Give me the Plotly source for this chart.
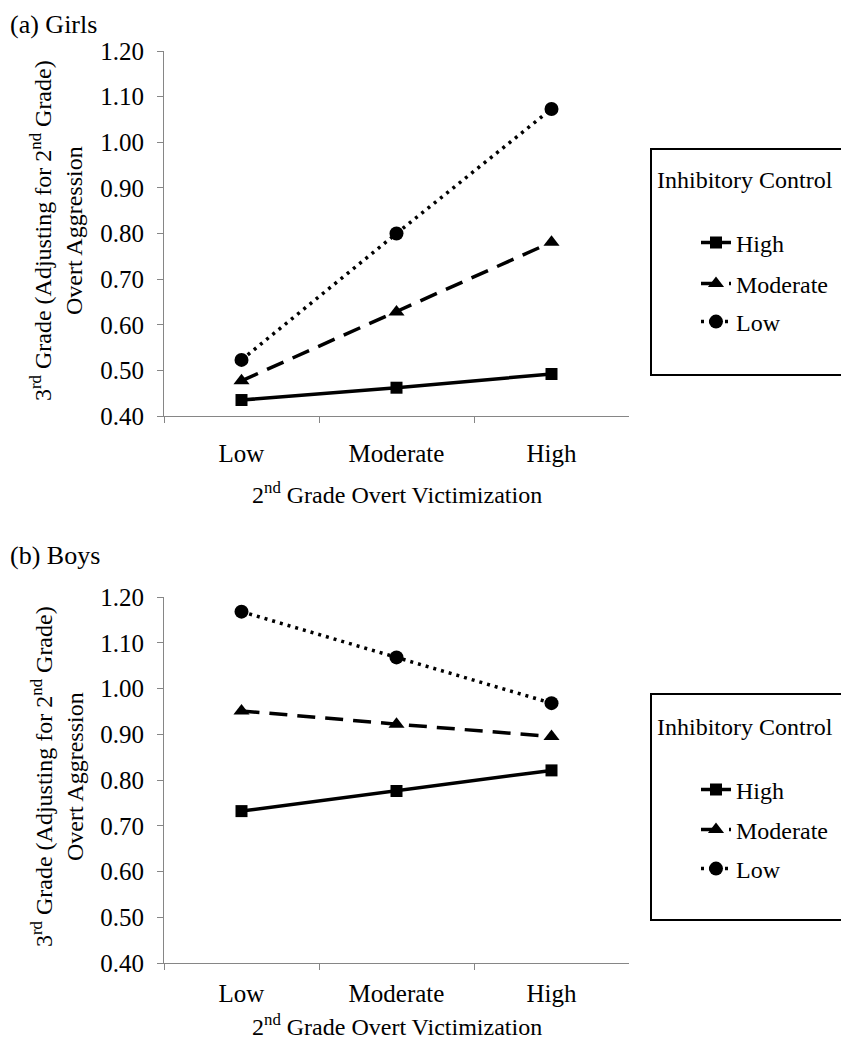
import plotly.graph_objects as go

categories = ["Low", "Moderate", "High"]
series_names = ["High", "Moderate", "Low"]

girls_high = [0.435, 0.462, 0.492]
girls_moderate = [0.477, 0.628, 0.781]
girls_low = [0.523, 0.800, 1.073]

boys_high = [0.732, 0.776, 0.821]
boys_moderate = [0.951, 0.922, 0.895]
boys_low = [1.168, 1.068, 0.968]

y_ticks = [0.40, 0.50, 0.60, 0.70, 0.80, 0.90, 1.00, 1.10, 1.20]

legend_title = "Inhibitory Control"
ytitle = "3<sup>rd</sup> Grade (Adjusting for 2<sup>nd</sup> Grade)<br>Overt Aggression"
xtitle = "2<sup>nd</sup> Grade Overt Victimization"

FONT = "Liberation Serif"
OFF = 8  # page body margin
W, H = 849 - 2 * OFF, 1050 - 2 * OFF


def sx(p):
    return (p - OFF) / W


def sy(p):
    return 1 - (p - OFF) / H


styles = {
    "High": dict(dash="solid", symbol="square", size=12),
    "Moderate": dict(dash="18px,10px", symbol="triangle-up", size=14),
    "Low": dict(dash="3px,5px", symbol="circle", size=14),
}

fig = go.Figure()

legend_ids_top = ["legend", "legend2", "legend3"]
legend_ids_bot = ["legend4", "legend5", "legend6"]


def add_panel(vals, xa, ya, legends):
    for name, v, lg in zip(series_names, vals, legends):
        st = styles[name]
        fig.add_trace(go.Scatter(
            x=categories, y=v, name=name, mode="lines+markers",
            line=dict(color="black", width=3.5, dash=st["dash"]),
            marker=dict(color="black", symbol=st["symbol"], size=st["size"]),
            xaxis=xa, yaxis=ya, legend=lg, showlegend=True,
        ))


add_panel([girls_high, girls_moderate, girls_low], "x", "y", legend_ids_top)
add_panel([boys_high, boys_moderate, boys_low], "x2", "y2", legend_ids_bot)

axis_common_x = dict(
    type="category", tickson="boundaries", ticks="outside", ticklen=6,
    tickcolor="#868686", showline=True, linecolor="#868686", linewidth=1,
    showgrid=False, zeroline=False, range=[-0.5, 2.5], automargin=False,
    tickfont=dict(family=FONT, size=25, color="black"),
)
axis_common_y = dict(
    range=[0.4, 1.2], tickvals=y_ticks, tickformat=".2f", ticks="outside", ticklen=6,
    tickcolor="#868686", showline=True, linecolor="#868686", linewidth=1,
    showgrid=False, zeroline=False, automargin=False,
    tickfont=dict(family=FONT, size=25, color="black"),
    ticklabelstandoff=8,
)

legend_common = dict(
    borderwidth=0, bgcolor="rgba(0,0,0,0)",
    font=dict(family=FONT, size=24, color="black"),
    xanchor="left", yanchor="middle", itemsizing="trace",
)

legend_rows_top = [243, 284, 322]
legend_rows_bot = [790, 830, 869]
legends = {}
for lid, yy in zip(legend_ids_top + legend_ids_bot, legend_rows_top + legend_rows_bot):
    legends[lid] = dict(x=sx(696), y=sy(yy), **legend_common)

txt = dict(family=FONT, size=24, color="black")
annotations = [
    dict(text="(a) Girls", x=0, y=1, xanchor="left", yanchor="top",
         font=dict(family=FONT, size=26, color="black")),
    dict(text="(b) Boys", x=0, y=sy(555), xanchor="left", yanchor="middle",
         font=dict(family=FONT, size=26, color="black")),
    dict(text=ytitle, x=sx(57), y=sy(231), textangle=-90, xanchor="center", yanchor="middle", font=txt),
    dict(text=ytitle, x=sx(57), y=sy(777), textangle=-90, xanchor="center", yanchor="middle", font=txt),
    dict(text=xtitle, x=sx(397), y=sy(493), xanchor="center", yanchor="middle", font=txt),
    dict(text=xtitle, x=sx(397), y=0, xanchor="center", yanchor="bottom", font=txt),
    dict(text=legend_title, x=sx(745), y=sy(180), xanchor="center", yanchor="middle", font=txt),
    dict(text=legend_title, x=sx(745), y=sy(727), xanchor="center", yanchor="middle", font=txt),
]
for a in annotations:
    a.update(xref="paper", yref="paper", showarrow=False)

shapes = [
    dict(type="rect", xref="paper", yref="paper", x0=sx(651), x1=sx(847), y0=sy(375), y1=sy(149),
         line=dict(color="black", width=2)),
    dict(type="rect", xref="paper", yref="paper", x0=sx(651), x1=sx(847), y0=sy(920), y1=sy(694),
         line=dict(color="black", width=2)),
]

fig.update_layout(
    width=W, height=H, margin=dict(l=0, r=0, t=0, b=0),
    paper_bgcolor="white", plot_bgcolor="white", showlegend=True,
    font=dict(family=FONT, size=24, color="black"),
    xaxis=dict(domain=[sx(164), sx(629)], anchor="y", ticklabelstandoff=15, **axis_common_x),
    yaxis=dict(domain=[sy(416), sy(51)], anchor="x", **axis_common_y),
    xaxis2=dict(domain=[sx(164), sx(629)], anchor="y2", ticklabelstandoff=8, **axis_common_x),
    yaxis2=dict(domain=[sy(963), sy(597)], anchor="x2", **axis_common_y),
    annotations=annotations,
    shapes=shapes,
    **legends,
)

fig.write_html("out.html")
